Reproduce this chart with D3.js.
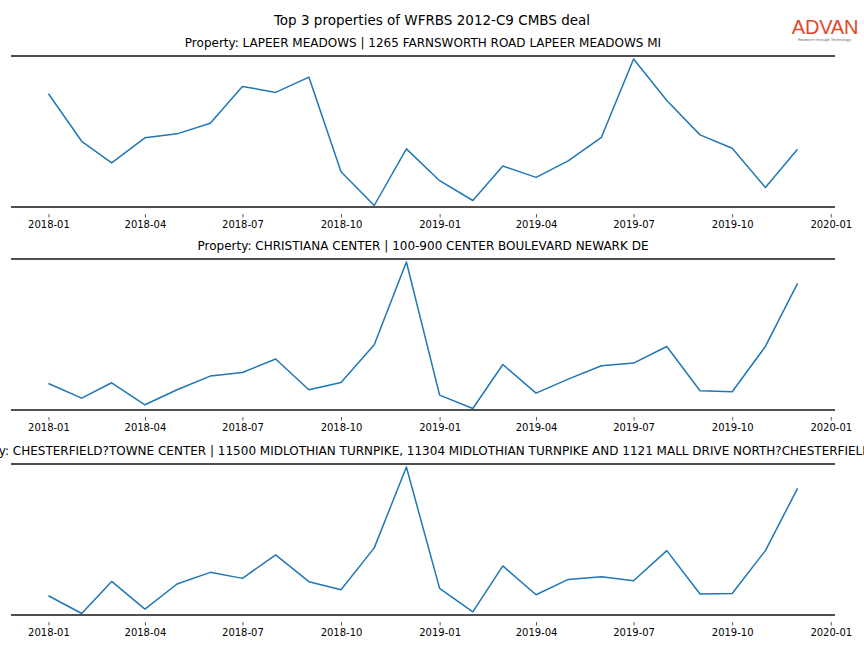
<!DOCTYPE html>
<html>
<head>
<meta charset="utf-8">
<script src="https://cdn.jsdelivr.net/npm/d3@7"></script>
<style>
  html, body { margin: 0; padding: 0; background: #fff; }
  svg { display: block; font-family: "DejaVu Sans", sans-serif; }
</style>
</head>
<body>
<svg id="chart" width="864" height="648"></svg>
<script>
const months = ["2018-01","2018-02","2018-03","2018-04","2018-05","2018-06","2018-07","2018-08","2018-09","2018-10","2018-11","2018-12",
                "2019-01","2019-02","2019-03","2019-04","2019-05","2019-06","2019-07","2019-08","2019-09","2019-10","2019-11","2019-12"];

const suptitle = "Top 3 properties of WFRBS 2012-C9 CMBS deal";

const propertyTitles = [
  "Property: LAPEER MEADOWS | 1265 FARNSWORTH ROAD LAPEER MEADOWS MI",
  "Property: CHRISTIANA CENTER | 100-900 CENTER BOULEVARD NEWARK DE",
  "Property: CHESTERFIELD?TOWNE CENTER | 11500 MIDLOTHIAN TURNPIKE, 11304 MIDLOTHIAN TURNPIKE AND 1121 MALL DRIVE NORTH?CHESTERFIELD VA"
];

const lapeerValues = [3114, 2640, 2424, 2674, 2714, 2820, 3187, 3127, 3280, 2337, 2000, 2564,
                      2247, 2050, 2394, 2280, 2444, 2680, 3460, 3047, 2704, 2570, 2180, 2560];
const christianaValues = [1750, 1604, 1757, 1537, 1687, 1824, 1860, 1994, 1687, 1760, 2137, 2964,
                          1634, 1500, 1940, 1654, 1794, 1927, 1954, 2120, 1677, 1667, 2120, 2750];
const chesterfieldValues = [1177, 1000, 1320, 1044, 1294, 1410, 1350, 1584, 1317, 1237, 1654, 2460,
                            1250, 1017, 1474, 1187, 1340, 1367, 1327, 1627, 1194, 1200, 1627, 2247];

const seriesList = [lapeerValues, christianaValues, chesterfieldValues];

const W = 864;
const svg = d3.select("#chart");
const parse = d3.timeParse("%Y-%m");
const dates = months.map(parse);

const axLeft = 11, axRight = 835;
const panelTops = [56, 259, 464];
const panelH = 151;

// x domain with 5% margin like matplotlib
const t0 = dates[0].getTime(), t1 = dates[dates.length - 1].getTime();
const pad = (t1 - t0) * 0.05;
const x = d3.scaleTime().domain([new Date(t0 - pad), new Date(t1 + pad)]).range([axLeft, axRight]);

// Suptitle
svg.append("text")
  .attr("x", W / 2).attr("y", 25)
  .attr("text-anchor", "middle")
  .attr("font-size", 13.5)
  .attr("fill", "#000")
  .text(suptitle);

// Logo
const logo = svg.append("g");
logo.append("text")
  .attr("x", 825).attr("y", 34)
  .attr("text-anchor", "middle")
  .attr("font-family", "Liberation Sans, Arial, sans-serif")
  .attr("font-size", 20)
  .attr("font-weight", 500)
  .attr("fill", "#e0482a")
  .attr("letter-spacing", -0.2)
  .text("ADVAN");
logo.append("text")
  .attr("x", 824.5).attr("y", 40.5)
  .attr("text-anchor", "middle")
  .attr("font-size", 3.6)
  .attr("fill", "#666")
  .text("Research through Technology");

seriesList.forEach((vals, i) => {
  const top = panelTops[i];
  const bottom = top + panelH;
  const g = svg.append("g");

  const ext = d3.extent(vals);
  const y = d3.scaleLinear().domain(ext).range([bottom - 1.5, top + 3]);

  // title
  g.append("text")
    .attr("x", (axLeft + axRight) / 2).attr("y", top - 9.5)
    .attr("text-anchor", "middle")
    .attr("font-size", 12)
    .attr("fill", "#000")
    .text(propertyTitles[i]);

  // line
  const line = d3.line()
    .x((d, j) => x(dates[j]))
    .y(d => y(d));
  g.append("path")
    .datum(vals)
    .attr("d", line)
    .attr("fill", "none")
    .attr("stroke", "#1f77b4")
    .attr("stroke-width", 1.5)
    .attr("stroke-linejoin", "round");

  // spines
  [top, bottom].forEach(yy => {
    g.append("line")
      .attr("x1", axLeft).attr("x2", axRight)
      .attr("y1", yy).attr("y2", yy)
      .attr("stroke", "#505050")
      .attr("stroke-width", 2);
  });

  // x axis
  const axis = d3.axisBottom(x)
    .ticks(d3.timeMonth.every(3))
    .tickFormat(d3.timeFormat("%Y-%m"))
    .tickSize(3.5)
    .tickPadding(3);
  const ag = g.append("g")
    .attr("transform", `translate(0,${bottom + 7})`)
    .call(axis);
  ag.select(".domain").remove();
  ag.selectAll(".tick line").attr("stroke", "#333").attr("stroke-width", 0.8);
  ag.selectAll(".tick text")
    .attr("font-family", "DejaVu Sans, sans-serif")
    .attr("font-size", 10)
    .attr("fill", "#000");
});
</script>
</body>
</html>
